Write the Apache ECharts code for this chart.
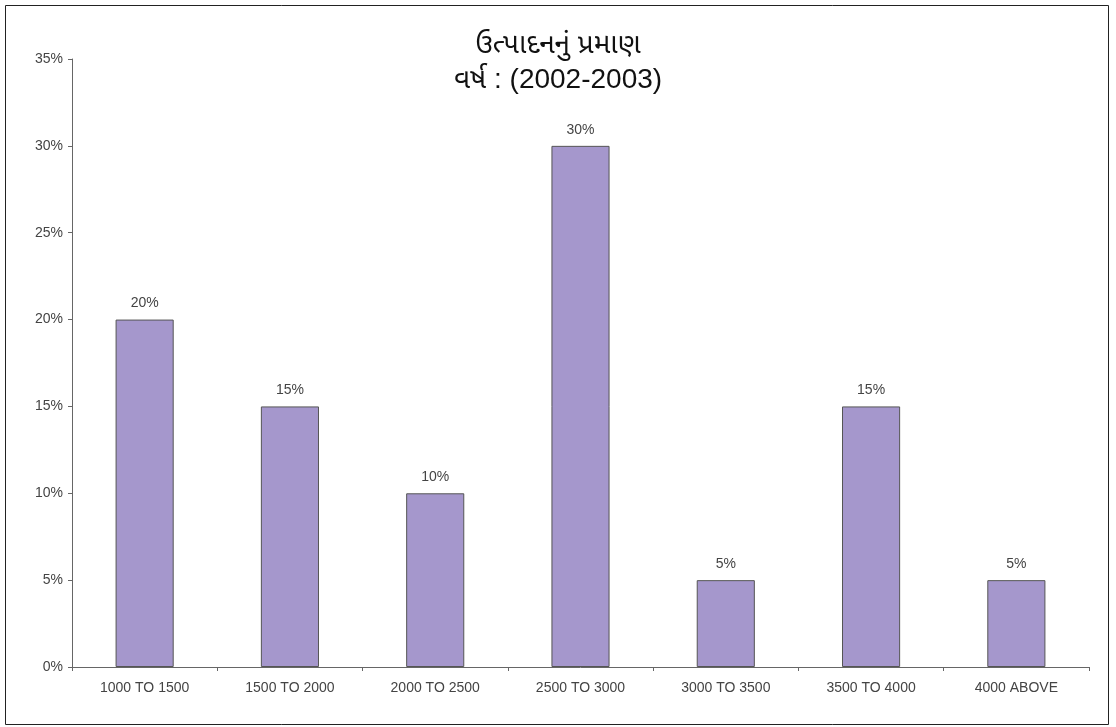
<!DOCTYPE html>
<html>
<head>
<meta charset="utf-8">
<script src="https://cdn.jsdelivr.net/npm/echarts@6/dist/echarts.min.js"></script>
<style>
html,body{margin:0;padding:0;background:#fff;}
#chart{width:1116px;height:727px;}
</style>
</head>
<body>
<div id="chart"></div>
<script>
const categories = ['1000 TO 1500','1500 TO 2000','2000 TO 2500','2500 TO 3000','3000 TO 3500','3500 TO 4000','4000 ABOVE'];
const values = [20, 15, 10, 30, 5, 15, 5];
const titleLine1 = 'ઉત્પાદનનું પ્રમાણ';
const titleLine2 = 'વર્ષ : (2002-2003)';

const chart = echarts.init(document.getElementById('chart'), null, {renderer: 'canvas'});
const font = 'Arial, "Liberation Sans", "Noto Sans Gujarati", "Noto Sans", sans-serif';
chart.setOption({
  backgroundColor: '#fff',
  animation: false,
  graphic: [{
    type: 'rect', shape: {x: 5.5, y: 5.5, width: 1103, height: 719},
    style: {fill: 'none', stroke: '#222', lineWidth: 1}, silent: true
  }],
  title: {
    text: titleLine1 + '\n' + titleLine2,
    left: 'center', top: 23,
    textStyle: {fontFamily: font, fontSize: 28, fontWeight: 'normal', color: '#111', lineHeight: 35}
  },
  grid: {left: 72, right: 27, top: 59, bottom: 60, containLabel: false},
  xAxis: {
    type: 'category', data: categories,
    axisLine: {lineStyle: {color: '#666', width: 1}},
    axisTick: {show: true, length: 4, lineStyle: {color: '#666'}},
    axisLabel: {color: '#444', fontSize: 14, fontFamily: font, margin: 14}
  },
  yAxis: {
    type: 'value', min: 0, max: 35, interval: 5,
    axisLine: {show: true, lineStyle: {color: '#666', width: 1}},
    axisTick: {show: true, length: 4, lineStyle: {color: '#666'}},
    splitLine: {show: false},
    axisLabel: {color: '#444', fontSize: 14, fontFamily: font, margin: 9, formatter: '{value}%'}
  },
  series: [{
    type: 'bar', data: values, barCategoryGap: '60%',
    itemStyle: {color: '#a597cc', borderColor: '#555', borderWidth: 1},
    label: {show: true, position: 'top', distance: 9, formatter: '{c}%', color: '#444', fontSize: 14, fontFamily: font}
  }]
});
</script>
</body>
</html>
